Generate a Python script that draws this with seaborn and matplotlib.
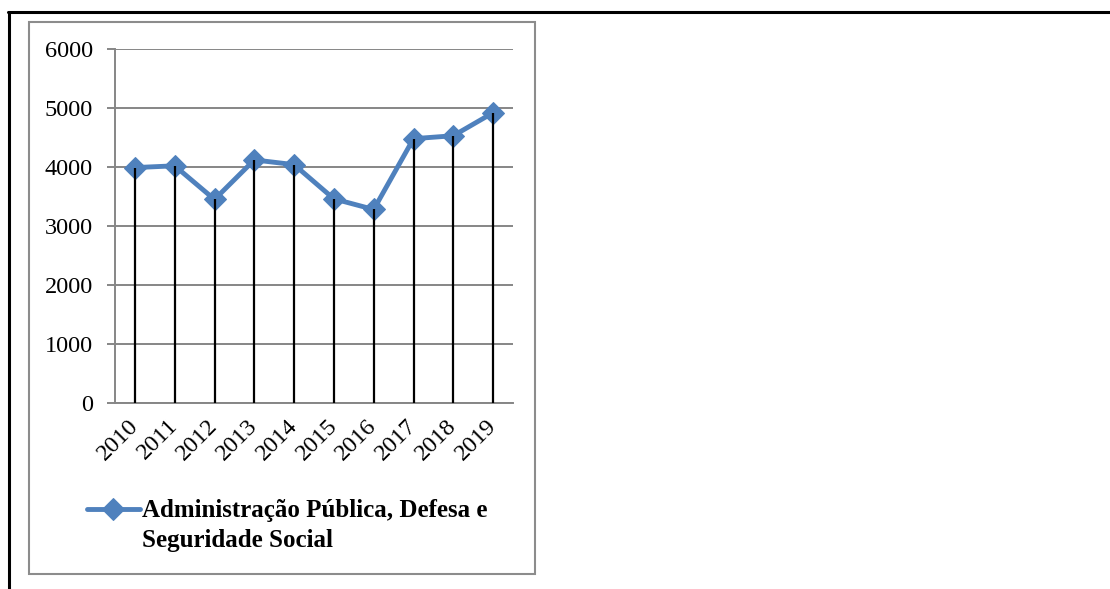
import matplotlib

matplotlib.use("Agg")
import matplotlib.pyplot as plt
import numpy as np
import pandas as pd
import seaborn as sns
from matplotlib.lines import Line2D
from matplotlib.patches import Rectangle

years = ["2010", "2011", "2012", "2013", "2014", "2015", "2016", "2017", "2018", "2019"]
values = [3990, 4020, 3450, 4120, 4040, 3460, 3280, 4480, 4530, 4920]
series_label = ["Administração Pública, Defesa e", "Seguridade Social"]
y_ticks = [0, 1000, 2000, 3000, 4000, 5000, 6000]

sns.set_style("white")
plt.rcParams["font.family"] = ["Liberation Serif", "DejaVu Serif"]
plt.rcParams["text.color"] = "black"
plt.rcParams["xtick.color"] = "black"
plt.rcParams["ytick.color"] = "black"

W, H = 1110, 589
fig = plt.figure(figsize=(W / 100, H / 100), dpi=100)
ax = fig.add_axes([115 / W, 1 - 403 / H, (513 - 115) / W, (403 - 49) / H])

df = pd.DataFrame({"pos": np.arange(len(years)), "value": values})

line_color = "#4F81BD"
grid_color = "#868686"

sns.lineplot(
    data=df,
    x="pos",
    y="value",
    ax=ax,
    color=line_color,
    linewidth=3.5,
    marker="D",
    markersize=11,
    markeredgecolor=line_color,
    label=series_label[0],
    zorder=3,
)
ax.vlines(df["pos"], 0, df["value"], color="black", linewidth=1.6, zorder=4)

ax.set_xlim(-0.5, len(years) - 0.5)
ax.set_ylim(0, 6000)
ax.set_yticks(y_ticks)
ax.set_yticklabels([str(t) for t in y_ticks], fontsize=17.5)
ax.set_xticks(df["pos"])
ax.set_xticklabels(years, fontsize=17.5, rotation=45, ha="right", va="center",
                   rotation_mode="anchor")
ax.set_xlabel("")
ax.set_ylabel("")

ax.yaxis.grid(True, color=grid_color, linewidth=1.4)
ax.xaxis.grid(False)
ax.set_axisbelow(True)
for side in ["top", "right"]:
    ax.spines[side].set_visible(False)
for side in ["left", "bottom"]:
    ax.spines[side].set_color(grid_color)
    ax.spines[side].set_linewidth(1.4)
ax.tick_params(axis="y", length=6, width=1.4, color=grid_color, pad=10, left=True)
ax.tick_params(axis="x", length=0, pad=14)

ax.legend_.remove()
handles, labels = ax.get_legend_handles_labels()
leg = fig.legend(
    handles,
    labels,
    loc="center left",
    bbox_to_anchor=(87 / W, 1 - 511 / H),
    frameon=False,
    borderpad=0,
    borderaxespad=0,
    handlelength=2.1,
    handletextpad=0.12,
    prop={"weight": "bold", "size": 18},
)

# second line of the legend label, aligned under the first
fig.canvas.draw()
bb = leg.get_texts()[0].get_window_extent()
fig.text(bb.x0 / W, 1 - 547 / H, series_label[1], fontsize=18, fontweight="bold",
         ha="left", va="baseline")

# inner chart frame and outer page frame
fig.add_artist(Rectangle((29 / W, 1 - 574 / H), (535 - 29) / W, (574 - 22) / H,
                         transform=fig.transFigure, fill=False,
                         edgecolor="#8c8c8c", linewidth=1.5))
fig.add_artist(Line2D([8 / W, 1], [1 - 12 / H, 1 - 12 / H], transform=fig.transFigure,
                      color="black", linewidth=2.2))
fig.add_artist(Line2D([8.5 / W, 8.5 / W], [0, 1 - 12 / H], transform=fig.transFigure,
                      color="black", linewidth=2.2))

fig.savefig("out.png", dpi=100)
